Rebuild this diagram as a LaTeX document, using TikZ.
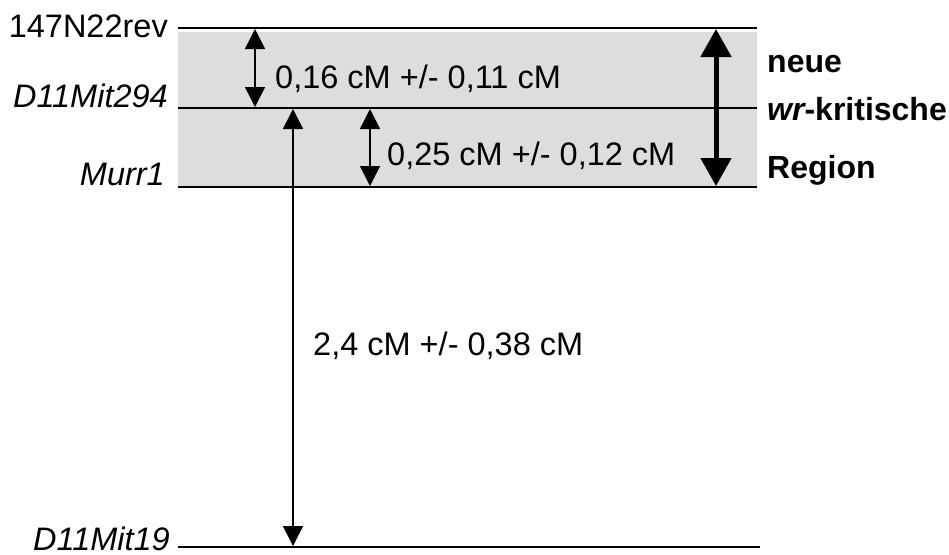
\documentclass[tikz,border=0pt]{standalone}
\usepackage{fontspec}
\setmainfont{Liberation Sans}
\usetikzlibrary{arrows.meta}
\definecolor{band}{RGB}{221,221,221}
\tikzset{
  x=1pt, y=-1pt,
  lbl/.style={inner sep=0pt, font=\fontsize{32.5}{38}\selectfont},
  marker/.style={lbl, anchor=base east},
  dist/.style={lbl, anchor=base west},
  level/.style={line width=2pt},
  thinarrow/.style={line width=1.6pt, {Triangle[width=20pt,length=20pt]}-{Triangle[width=20pt,length=20pt]}},
  onearrow/.style={line width=1.6pt, -{Triangle[width=20pt,length=20pt]}},
  thickarrow/.style={line width=5pt, {Triangle[width=30pt,length=28pt]}-{Triangle[width=30pt,length=28pt]}},
  region/.style={lbl, anchor=base west, font=\fontsize{32}{38}\selectfont\bfseries}
}
\begin{document}
\begin{tikzpicture}
\useasboundingbox (0,0) rectangle (949,554);
\fill[band] (178,32) rectangle (757,187);
% levels
\coordinate (aS) at (178,28);  \coordinate (aE) at (757,28);
\coordinate (bS) at (178,108); \coordinate (bE) at (757,108);
\coordinate (cS) at (178,187); \coordinate (cE) at (757,187);
\coordinate (dS) at (178,547); \coordinate (dE) at (760,547);
\draw[level] (aS) -- (aE);
\draw[level] (bS) -- (bE);
\draw[level] (cS) -- (cE);
\draw[level] (dS) -- (dE);
% marker names
\node[marker] (m1) at (168,37) {147N22rev};
\node[marker] (m2) at (168,107) {\itshape D11Mit294};
\node[marker] (m3) at (165,185) {\itshape Murr1};
\node[marker, text depth=0pt] (m4) at (170,550) {\itshape D11Mit19};
% distance arrows
\coordinate (p1t) at (255,29); \coordinate (p1b) at (255,107);
\coordinate (p2t) at (370,109); \coordinate (p2b) at (370,186);
\coordinate (p3t) at (293,109); \coordinate (p3b) at (293,546);
\coordinate (p4t) at (716,29); \coordinate (p4b) at (716,186);
\draw[thinarrow] (p1t) -- (p1b);
\draw[thinarrow] (p2t) -- (p2b);
\draw[thinarrow] (p3t) -- (p3b);
\draw[thickarrow] (p4t) -- (p4b);
% distance labels
\node[dist] (d1) at (275,88) {0,16 cM +/- 0,11 cM};
\node[dist] (d2) at (387,165) {0,25 cM +/- 0,12 cM};
\node[dist] (d3) at (313,355) {2,4 cM +/- 0,38 cM};
% region label
\node[region] (r1) at (767,72) {neue};
\node[region] (r2) at (767,120) {\itshape wr\upshape-kritische};
\node[region] (r3) at (767,178) {Region};
\end{tikzpicture}
\end{document}
